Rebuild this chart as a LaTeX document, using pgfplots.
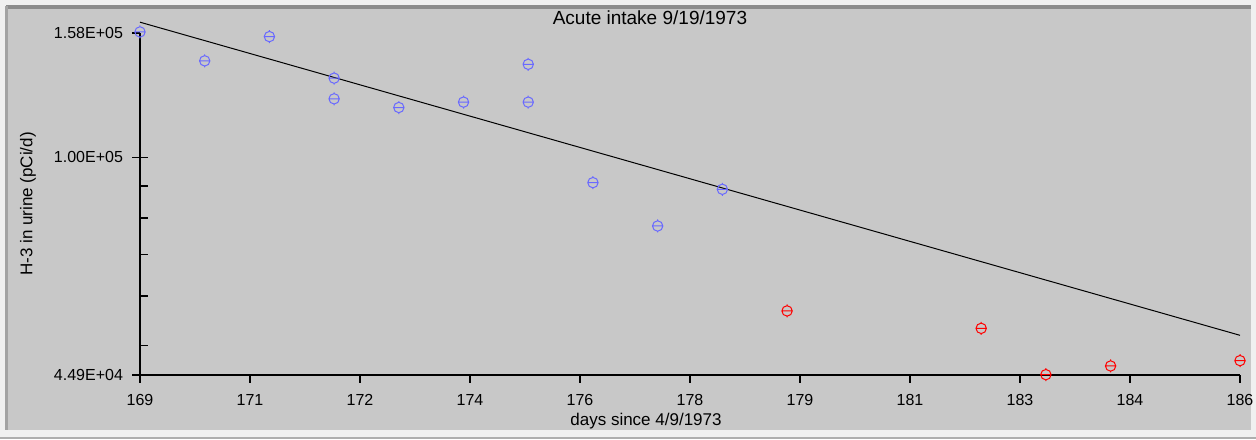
\documentclass[border=0pt]{standalone}
\usepackage{fontspec}
\setmainfont{Liberation Sans}
\usepackage{pgfplots}
\pgfplotsset{compat=1.18}

\definecolor{panel}{RGB}{200,200,200}
\definecolor{frame}{RGB}{240,240,240}
\definecolor{edge}{RGB}{140,140,140}
\definecolor{ptblue}{RGB}{105,105,255}
\definecolor{ptred}{RGB}{255,0,0}

% circle with a bar through it, like the original markers
\pgfdeclareplotmark{ominus}{%
  \pgfpathcircle{\pgfpointorigin}{\pgfplotmarksize}
  \pgfpathmoveto{\pgfpoint{-\pgfplotmarksize}{0pt}}
  \pgfpathlineto{\pgfpoint{\pgfplotmarksize}{0pt}}
  \pgfpathmoveto{\pgfpoint{0pt}{\pgfplotmarksize}}
  \pgfpathlineto{\pgfpoint{0pt}{1.25\pgfplotmarksize}}
  \pgfpathmoveto{\pgfpoint{0pt}{-\pgfplotmarksize}}
  \pgfpathlineto{\pgfpoint{0pt}{-1.25\pgfplotmarksize}}
  \pgfusepathqstroke}

\begin{document}
\begin{tikzpicture}
% 1 px of the reference = 0.5pt, origin at the axis corner (px 140,375)
\useasboundingbox (-70pt,-32pt) rectangle (558pt,187.5pt);
\fill[frame] (-70pt,-32pt) rectangle (558pt,187.5pt);
\fill[panel] (-67pt,-27.5pt) rectangle (555.5pt,184.5pt);
\fill[edge] (-67pt,183pt) rectangle (555.5pt,184.8pt);
\fill[edge!80] (-67.5pt,-27.5pt) rectangle (-66.2pt,184.5pt);
\fill[edge!70] (-70pt,-32pt) rectangle (558pt,-31pt);

\begin{axis}[
  at={(0,0)}, anchor=south west,
  scale only axis,
  width=550pt, height=171pt,
  ymode=log,
  xmin=169, xmax=186,
  ymin=44900, ymax=158000,
  clip=false,
  axis x line=bottom, axis y line=left,
  axis line style={-, line width=0.8pt, black},
  font=\fontsize{8}{9}\selectfont,
  xtick={169,170.7,172.4,174.1,175.8,177.5,179.2,180.9,182.6,184.3,186},
  xticklabels={169,171,172,174,176,178,179,181,183,184,186},
  ytick={44900,100000,158000},
  yticklabels={4.49E+04,1.00E+05,1.58E+05},
  minor ytick={},
  tick align=outside,
  major tick length=4pt,
  tick style={black, line width=0.7pt},
  extra y ticks={50000,60000,70000,80000,90000,100000},
  extra y tick labels={},
  extra y tick style={tick align=inside},
  xticklabel style={yshift=-2pt},
  yticklabel style={xshift=-1pt},
  xlabel={days since 4/9/1973},
  xlabel style={at={(axis description cs:0.46,-0.1345)}, anchor=center,
    font=\fontsize{8.5}{10}\selectfont},
  ylabel={H-3 in urine (pCi/d)},
  ylabel style={at={(axis description cs:-0.1018,0.5)}, anchor=center,
    font=\fontsize{8.5}{10}\selectfont},
]

% fitted retention line
\addplot[black, line width=0.5pt] coordinates {(169,164400) (186,51950)};

% measurements used in the fit
\addplot[only marks, mark=ominus, mark size=2.6pt, ptblue,
  mark options={line width=0.5pt}] coordinates {
  (169,158600) (170,142600) (171,155900) (172,133800) (172,124000)
  (173,120100) (174,122500) (175,140800) (175,122500) (176,91100)
  (177,77680) (178,88900)
};

% later measurements
\addplot[only marks, mark=ominus, mark size=2.6pt, ptred,
  mark options={line width=0.5pt}] coordinates {
  (179,56830) (182,53300) (183,44950) (184,46410) (186,47330)
};

\node[anchor=center, font=\fontsize{9.5}{11}\selectfont]
  at (axis description cs:0.4636,1.044) {Acute intake 9/19/1973};
\end{axis}
\end{tikzpicture}
\end{document}
